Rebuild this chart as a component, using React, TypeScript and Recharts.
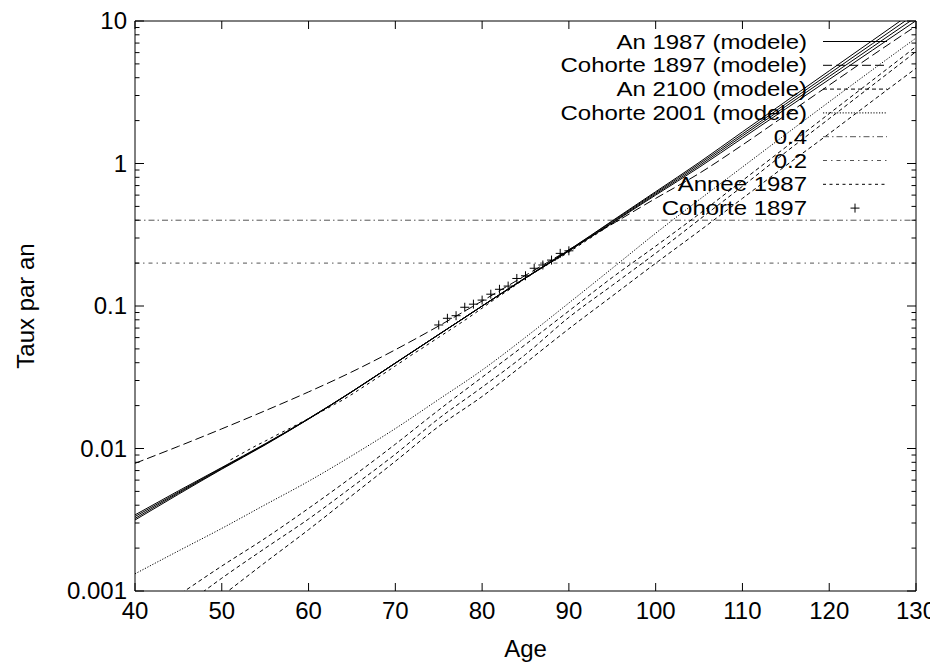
import React from 'react';
import { ComposedChart, Line, XAxis, YAxis, ReferenceLine } from 'recharts';

// ---------- data ----------
const ages5 = [40, 45, 50, 55, 60, 65, 70, 75, 80, 85, 90, 95, 100, 105, 110, 115, 120, 125, 130];

const an1987A = [0.00342, 0.00504, 0.00736, 0.0108, 0.0162, 0.0251, 0.0398, 0.0631, 0.1, 0.158, 0.247, 0.396, 0.634, 1.016, 1.667, 2.73, 4.47, 7.31, 11.96];
const an1987B = [0.00333, 0.00494, 0.0073, 0.0107, 0.0162, 0.0251, 0.0398, 0.0631, 0.1, 0.158, 0.246, 0.392, 0.623, 0.991, 1.61, 2.62, 4.27, 6.94, 11.29];
const an1987C = [0.00323, 0.00486, 0.00722, 0.0107, 0.0161, 0.025, 0.0397, 0.063, 0.0998, 0.157, 0.244, 0.386, 0.611, 0.964, 1.56, 2.52, 4.08, 6.59, 10.64];
const an1987D = [0.00315, 0.00477, 0.00716, 0.0106, 0.0161, 0.025, 0.0397, 0.063, 0.0998, 0.157, 0.243, 0.382, 0.6, 0.939, 1.507, 2.42, 3.89, 6.25, 10.05];

const cohorte1897Model = [0.00787, 0.01035, 0.01374, 0.01841, 0.02495, 0.03451, 0.04932, 0.07244, 0.1084, 0.1641, 0.2483, 0.3758, 0.5689, 0.8511, 1.349, 2.188, 3.548, 5.754, 9.226];

const an2100A = [0.000575, 0.000933, 0.001496, 0.002344, 0.003802, 0.00631, 0.01072, 0.01862, 0.03162, 0.0537, 0.0923, 0.1585, 0.263, 0.4416, 0.7586, 1.303, 2.239, 3.846, 6.607];
const an2100B = [0.000437, 0.000733, 0.00123, 0.001995, 0.0032, 0.00537, 0.00912, 0.01622, 0.02692, 0.0457, 0.0832, 0.1396, 0.2344, 0.4027, 0.6918, 1.202, 2.065, 3.548, 6.095];
const an2100C = [0.000316, 0.000537, 0.000923, 0.001585, 0.002692, 0.004677, 0.00813, 0.01429, 0.02317, 0.0398, 0.0692, 0.1175, 0.1995, 0.335, 0.5689, 0.9661, 1.622, 2.754, 4.656];

const cohorte2001Model = [0.00132, 0.00191, 0.00275, 0.00403, 0.00589, 0.00891, 0.0138, 0.0221, 0.0355, 0.0603, 0.105, 0.184, 0.324, 0.556, 0.944, 1.603, 2.71, 4.55, 7.59];

const anneeAges = [51, 52, 53, 54, 55, 56, 57, 58, 59, 60, 61, 62, 63, 64, 65, 66, 67, 68, 69, 70, 71, 72, 73, 74, 75, 76, 77, 78, 79, 80, 81, 82, 83, 84, 85, 86, 87, 88, 89, 90, 91, 92, 93, 94, 95, 96];
const annee1987 = [0.00832, 0.00899, 0.00973, 0.0105, 0.01127, 0.01213, 0.01306, 0.014, 0.01507, 0.0162, 0.0175, 0.0189, 0.0204, 0.022, 0.024, 0.0263, 0.0288, 0.0316, 0.0345, 0.038, 0.0417, 0.0459, 0.0501, 0.055, 0.0603, 0.0661, 0.0724, 0.0794, 0.0875, 0.0966, 0.1067, 0.1175, 0.1288, 0.1419, 0.1567, 0.1718, 0.1888, 0.2037, 0.2198, 0.2388, 0.2618, 0.2871, 0.3148, 0.3451, 0.3784, 0.4055];

const cohorteAges = [75, 76, 77, 78, 79, 80, 81, 82, 83, 84, 85, 86, 87, 88, 89, 90];
const cohorte1897 = [0.0736, 0.082, 0.0855, 0.098, 0.103, 0.11, 0.121, 0.131, 0.138, 0.156, 0.163, 0.184, 0.194, 0.21, 0.234, 0.244];

const level04 = 0.4;
const level02 = 0.2;

const xTicks = [40, 50, 60, 70, 80, 90, 100, 110, 120, 130];
const yMajor = [0.001, 0.01, 0.1, 1, 10];
const yMajorLabels = ['0.001', '0.01', '0.1', '1', '10'];
const yMinor = [
  0.002, 0.003, 0.004, 0.005, 0.006, 0.007, 0.008, 0.009,
  0.02, 0.03, 0.04, 0.05, 0.06, 0.07, 0.08, 0.09,
  0.2, 0.3, 0.4, 0.5, 0.6, 0.7, 0.8, 0.9,
  2, 3, 4, 5, 6, 7, 8, 9,
];

const legendLabels = [
  'An 1987 (modele)',
  'Cohorte 1897 (modele)',
  'An 2100 (modele)',
  'Cohorte 2001 (modele)',
  '0.4',
  '0.2',
  'Annee 1987',
  'Cohorte 1897',
];

// ---------- styles / layout ----------
const FONT = "'Liberation Sans', Arial, Helvetica, sans-serif";
const FS = 24;
const LEG_FS = 20.5;
const LEG_SX = 1.17;
const W = 930;
const H = 656;
const PLOT_W = 781;
const PLOT_H = 570;

const DASH_LONG = '9 4';
const DASH_SHORT = '4 3';
const DASH_DOT = '1.2 1.6';
const DASH_04 = '6 3 1.5 3';
const DASH_02 = '4 4 1.5 4';
const DASH_ANNEE = '3 3.5';

const legendStyles: { dash?: string; stroke: string; plus?: boolean }[] = [
  { stroke: '#000' },
  { stroke: '#000', dash: DASH_LONG },
  { stroke: '#000', dash: DASH_SHORT },
  { stroke: '#000', dash: DASH_DOT },
  { stroke: '#555', dash: DASH_04 },
  { stroke: '#555', dash: DASH_02 },
  { stroke: '#000', dash: DASH_ANNEE },
  { stroke: '#000', plus: true },
];

const pts = (xs: number[], ys: number[]) => xs.map((x, i) => ({ age: x, v: ys[i] }));

const XTick = (props: any) => {
  const { x, y, payload } = props;
  return (
    <g>
      <line x1={x} y1={y} x2={x} y2={y - 8} stroke="#000" />
      <line x1={x} y1={y - PLOT_H} x2={x} y2={y - PLOT_H + 8} stroke="#000" />
      <text x={x} y={y + 28} textAnchor="middle" fontSize={FS} fontFamily={FONT} fill="#000">
        {payload.value}
      </text>
    </g>
  );
};

const YTick = (props: any) => {
  const { x, y, payload } = props;
  const idx = yMajor.indexOf(payload.value);
  const len = idx >= 0 ? 9 : 4.5;
  return (
    <g>
      <line x1={x} y1={y} x2={x + len} y2={y} stroke="#000" />
      <line x1={x + PLOT_W} y1={y} x2={x + PLOT_W - len} y2={y} stroke="#000" />
      {idx >= 0 && (
        <text x={x - 8} y={y + 8} textAnchor="end" fontSize={FS} fontFamily={FONT} fill="#000">
          {yMajorLabels[idx]}
        </text>
      )}
    </g>
  );
};

const PlusDot = (props: any) => {
  const { cx, cy, index } = props;
  if (cx == null || cy == null) return <g key={index} />;
  return <path key={index} d={`M${cx - 4.5},${cy}h9M${cx},${cy - 4.5}v9`} stroke="#000" strokeWidth={1} fill="none" />;
};

export default function App() {
  const modelLines = [an1987A, an1987B, an1987C, an1987D];
  const an2100Lines = [an2100A, an2100B, an2100C];

  return (
    <div style={{ position: 'relative', width: W, height: H }}>
      <ComposedChart width={W} height={H} margin={{ top: 13, right: 22, bottom: 0, left: 0 }}>
        <XAxis
          dataKey="age"
          type="number"
          domain={[40, 130]}
          ticks={xTicks}
          interval={0}
          allowDataOverflow
          height={73}
          tickLine={false}
          tickSize={0}
          tickMargin={0}
          axisLine={{ stroke: '#000' }}
          tick={<XTick />}
        />
        <YAxis
          type="number"
          scale="log"
          domain={[0.001, 10]}
          allowDataOverflow
          ticks={[...yMajor, ...yMinor]}
          interval={0}
          width={127}
          tickLine={false}
          tickSize={0}
          tickMargin={0}
          axisLine={{ stroke: '#000' }}
          tick={<YTick />}
        />
        <ReferenceLine y={10} stroke="#000" />
        <ReferenceLine x={130} stroke="#000" />
        <ReferenceLine y={level04} stroke="#555" strokeDasharray={DASH_04} />
        <ReferenceLine y={level02} stroke="#555" strokeDasharray={DASH_02} />

        {modelLines.map((d, i) => (
          <Line
            key={'an1987-' + i}
            data={pts(ages5, d)}
            dataKey="v"
            type="monotone"
            stroke="#000"
            strokeWidth={1}
            dot={false}
            activeDot={false}
            legendType="none"
            isAnimationActive={false}
          />
        ))}
        <Line
          data={pts(ages5, cohorte1897Model)}
          dataKey="v"
          type="monotone"
          stroke="#000"
          strokeWidth={1}
          strokeDasharray={DASH_LONG}
          dot={false}
          activeDot={false}
          isAnimationActive={false}
        />
        {an2100Lines.map((d, i) => (
          <Line
            key={'an2100-' + i}
            data={pts(ages5, d)}
            dataKey="v"
            type="monotone"
            stroke="#000"
            strokeWidth={1}
            strokeDasharray={DASH_SHORT}
            dot={false}
            activeDot={false}
            isAnimationActive={false}
          />
        ))}
        <Line
          data={pts(ages5, cohorte2001Model)}
          dataKey="v"
          type="monotone"
          stroke="#000"
          strokeWidth={1}
          strokeDasharray={DASH_DOT}
          dot={false}
          activeDot={false}
          isAnimationActive={false}
        />
        <Line
          data={pts(anneeAges, annee1987)}
          dataKey="v"
          type="linear"
          stroke="#000"
          strokeWidth={1}
          strokeDasharray={DASH_ANNEE}
          dot={false}
          activeDot={false}
          isAnimationActive={false}
        />
        <Line
          data={pts(cohorteAges, cohorte1897)}
          dataKey="v"
          type="linear"
          stroke="none"
          dot={<PlusDot />}
          activeDot={false}
          isAnimationActive={false}
        />
      </ComposedChart>

      <svg
        width={W}
        height={H}
        style={{ position: 'absolute', left: 0, top: 0, pointerEvents: 'none' }}
      >
        {legendLabels.map((label, i) => {
          const cy = 33.5 + i * 23.8;
          const st = legendStyles[i];
          return (
            <g key={label}>
              <text
                x={0}
                y={0}
                transform={`translate(799 ${cy + 7}) scale(${LEG_SX} 1)`}
                textAnchor="end"
                fontSize={LEG_FS}
                fontFamily={FONT}
                fill="#000"
              >
                {label}
              </text>
              {st.plus ? (
                <path d={`M${847 - 4.5},${cy}h9M847,${cy - 4.5}v9`} stroke="#000" fill="none" />
              ) : (
                <line x1={815} y1={cy} x2={879} y2={cy} stroke={st.stroke} strokeDasharray={st.dash} />
              )}
            </g>
          );
        })}
        <text
          x={26}
          y={298}
          transform="rotate(-90 26 298)"
          textAnchor="middle"
          fontSize={FS}
          fontFamily={FONT}
          fill="#000"
        >
          Taux par an
        </text>
        <text x={517.5} y={649} textAnchor="middle" fontSize={FS} fontFamily={FONT} fill="#000">
          Age
        </text>
      </svg>
    </div>
  );
}
